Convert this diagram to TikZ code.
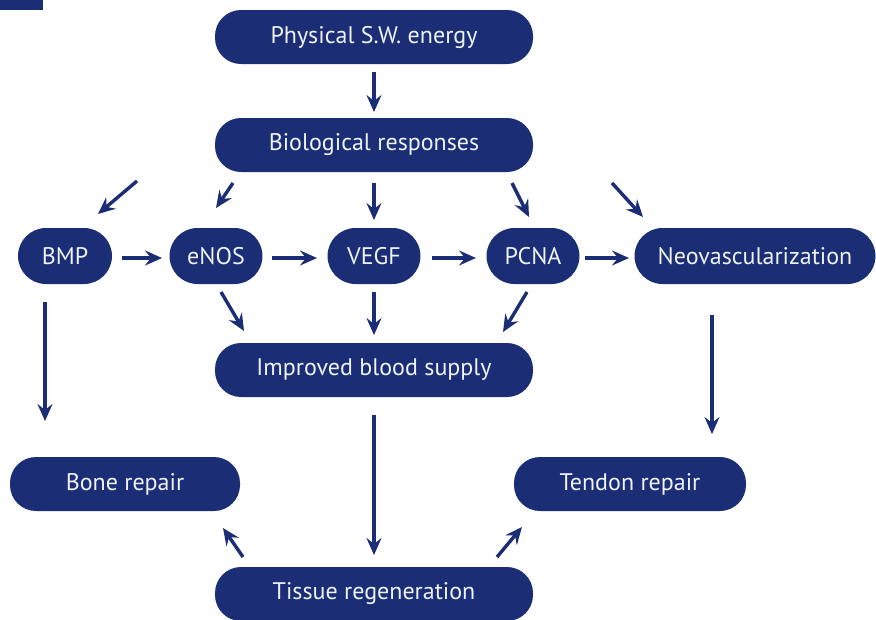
\documentclass[tikz,border=0pt]{standalone}
\usepackage{fontspec}
\setmainfont{PT Sans}
\usetikzlibrary{arrows.meta}
\definecolor{navy}{HTML}{1A2D75}
\definecolor{lbl}{HTML}{EEF2FA}
\begin{document}
\begin{tikzpicture}[x=1pt,y=-1pt,
  box/.style={fill=navy,text=lbl,rounded corners=26pt,minimum height=54pt,inner sep=0pt,font=\fontsize{24}{28}\selectfont},
  arr/.style={draw=navy,line width=3.4pt,-{Stealth[length=17pt,width=15pt,inset=6pt]}}]
\useasboundingbox (0,0) rectangle (876,619);
\fill[navy] (0,0) rectangle (43,10);
\node[box,minimum width=318pt] (phys) at (374,37) {Physical S.W. energy};
\node[box,minimum width=318pt] (bio) at (374,145) {Biological responses};
\node[box,minimum width=94pt,rounded corners=28pt,minimum height=56pt] (bmp) at (65,256) {BMP};
\node[box,minimum width=93pt,rounded corners=28pt,minimum height=56pt] (enos) at (216,256) {eNOS};
\node[box,minimum width=93pt,rounded corners=28pt,minimum height=56pt] (vegf) at (374,256) {VEGF};
\node[box,minimum width=93pt,rounded corners=28pt,minimum height=56pt] (pcna) at (533,256) {PCNA};
\node[box,minimum width=241pt,rounded corners=28pt,minimum height=56pt] (neo) at (755,256) {Neovascularization};
\node[box,minimum width=318pt] (blood) at (374,370) {Improved blood supply};
\node[box,minimum width=230pt] (bone) at (125,484) {Bone repair};
\node[box,minimum width=232pt] (tendon) at (630,484) {Tendon repair};
\node[box,minimum width=318pt,minimum height=54pt] (tissue) at (374,594) {Tissue regeneration};
% free connector ends
\coordinate (a1s) at (374,72); \coordinate (a1e) at (374,112);
\coordinate (b1s) at (137,181); \coordinate (b1e) at (98,214);
\coordinate (b2s) at (233,183); \coordinate (b2e) at (216,208);
\coordinate (b3s) at (374,183); \coordinate (b3e) at (374,220);
\coordinate (b4s) at (512,183); \coordinate (b4e) at (529,217);
\coordinate (b5s) at (612,183); \coordinate (b5e) at (643,217);
\coordinate (h1s) at (122,258); \coordinate (h1e) at (162,258);
\coordinate (h2s) at (272,258); \coordinate (h2e) at (317,258);
\coordinate (h3s) at (432,258); \coordinate (h3e) at (476,258);
\coordinate (h4s) at (585,258); \coordinate (h4e) at (629,258);
\coordinate (d1s) at (221,292); \coordinate (d1e) at (244,331);
\coordinate (d2s) at (374,292); \coordinate (d2e) at (374,335);
\coordinate (d3s) at (527,292); \coordinate (d3e) at (503,332);
\coordinate (v1s) at (45,302); \coordinate (v1e) at (45,421);
\coordinate (v2s) at (712,315); \coordinate (v2e) at (712,434);
\coordinate (v3s) at (374,415); \coordinate (v3e) at (374,555);
\coordinate (t1s) at (243,557); \coordinate (t1e) at (223,528);
\coordinate (t2s) at (497,557); \coordinate (t2e) at (522,527);
\foreach \p in {a1,b1,b2,b3,b4,b5,h1,h2,h3,h4,d1,d2,d3,v1,v2,v3,t1,t2}
  \draw[arr] (\p s) -- (\p e);
\end{tikzpicture}
\end{document}
